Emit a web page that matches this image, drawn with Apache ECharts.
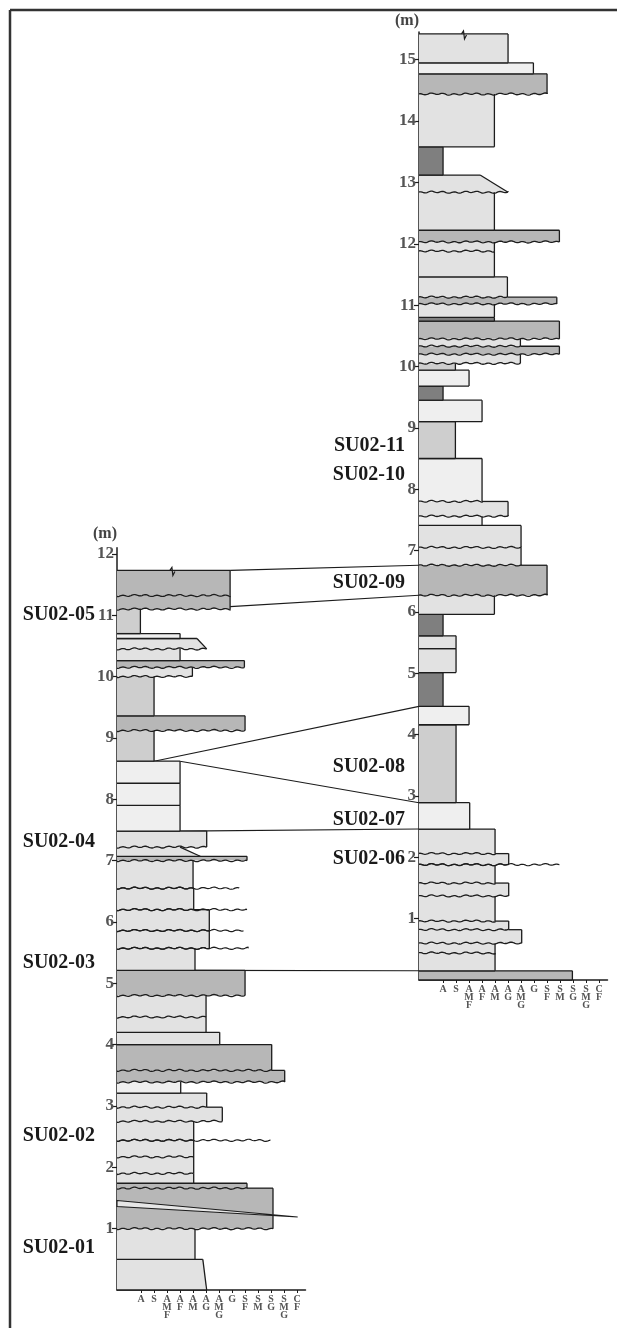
<!DOCTYPE html>
<html lang="en">
<head>
<meta charset="UTF-8">
<title>SU02 sections</title>
<script src="https://cdn.jsdelivr.net/npm/echarts@6/dist/echarts.min.js"></script>
</head>
<body style="margin:0;background:#fff">
<div id="main" style="width:617px;height:1328px"></div>
<script>
// grain size classes on the bottom axis
const sizeLabels = ['A', 'S', 'A\nM\nF', 'A\nF', 'A\nM', 'A\nG', 'A\nM\nG', 'G', 'S\nF', 'S\nM', 'S\nG', 'S\nM\nG', 'C\nF'];
const sizePos = [1.85, 2.85, 3.85, 4.85, 5.85, 6.85, 7.85, 8.85, 9.85, 10.85, 11.85, 12.85, 13.85];
const leftTicks = [1, 2, 3, 4, 5, 6, 7, 8, 9, 10, 11, 12];
const rightTicks = [1, 2, 3, 4, 5, 6, 7, 8, 9, 10, 11, 12, 13, 14, 15];

// beds: [base (m), top (m), size at base, size at top, shade, erosive base]
const leftBeds = [
    [0, 0.5, 6.9, 6.6, 1, 0],
    [0.5, 1.0, 6.0, 6.0, 1, 0],
    [1.0, 1.66, 12.0, 12.0, 3, 1],
    [1.66, 1.74, 10.0, 10.0, 3, 1],
    [1.74, 1.9, 5.9, 5.9, 1, 0],
    [1.9, 2.17, 5.9, 5.9, 1, 1],
    [2.17, 2.44, 5.9, 5.9, 1, 1],
    [2.44, 2.75, 5.9, 5.9, 1, 1],
    [2.75, 2.98, 8.1, 8.1, 1, 1],
    [2.98, 3.21, 6.9, 6.9, 1, 1],
    [3.21, 3.39, 4.9, 4.9, 0, 0],
    [3.39, 3.58, 12.9, 12.9, 3, 1],
    [3.58, 4.0, 11.9, 11.9, 3, 1],
    [4.0, 4.2, 7.9, 7.9, 1, 0],
    [4.2, 4.45, 6.85, 6.85, 1, 0],
    [4.45, 4.8, 6.85, 6.85, 1, 1],
    [4.8, 5.21, 9.85, 9.85, 3, 1],
    [5.21, 5.57, 6.0, 6.0, 1, 0],
    [5.57, 5.86, 7.1, 7.1, 1, 1],
    [5.86, 6.2, 7.1, 7.1, 1, 1],
    [6.2, 6.55, 5.9, 5.9, 1, 1],
    [6.55, 7.0, 5.85, 5.85, 1, 1],
    [7.0, 7.07, 10.0, 10.0, 3, 1],
    [7.07, 7.22, 6.4, 4.85, 1, 0],
    [7.22, 7.48, 6.9, 6.9, 1, 1],
    [7.48, 7.9, 4.85, 4.85, 0, 0],
    [7.9, 8.26, 4.85, 4.85, 0, 0],
    [8.26, 8.62, 4.85, 4.85, 0, 0],
    [8.62, 9.12, 2.85, 2.85, 2, 0],
    [9.12, 9.36, 9.85, 9.85, 3, 1],
    [9.36, 10.0, 2.85, 2.85, 2, 0],
    [10.0, 10.15, 5.8, 5.8, 1, 1],
    [10.15, 10.26, 9.8, 9.8, 3, 1],
    [10.26, 10.45, 4.85, 4.85, 1, 0],
    [10.45, 10.62, 6.9, 6.15, 1, 1],
    [10.62, 10.7, 4.85, 4.85, 0, 0],
    [10.7, 11.1, 1.8, 1.8, 2, 0],
    [11.1, 11.32, 8.7, 8.7, 3, 1],
    [11.32, 11.73, 8.7, 8.7, 3, 1]
];
const rightBeds = [
    [0, 0.15, 11.8, 11.8, 3, 0],
    [0.15, 0.44, 5.85, 5.85, 1, 0],
    [0.44, 0.6, 5.85, 5.85, 1, 1],
    [0.6, 0.82, 7.9, 7.9, 1, 1],
    [0.82, 0.96, 6.9, 6.9, 1, 1],
    [0.96, 1.37, 5.85, 5.85, 1, 1],
    [1.37, 1.58, 6.9, 6.9, 1, 1],
    [1.58, 1.88, 5.85, 5.85, 1, 1],
    [1.88, 2.06, 6.9, 6.9, 1, 1],
    [2.06, 2.46, 5.85, 5.85, 1, 1],
    [2.46, 2.89, 3.9, 3.9, 0, 0],
    [2.89, 4.16, 2.85, 2.85, 2, 0],
    [4.16, 4.46, 3.85, 3.85, 0, 0],
    [4.46, 5.01, 1.85, 1.85, 4, 0],
    [5.01, 5.4, 2.85, 2.85, 1, 0],
    [5.4, 5.61, 2.85, 2.85, 1, 0],
    [5.61, 5.96, 1.85, 1.85, 4, 0],
    [5.96, 6.27, 5.8, 5.8, 1, 0],
    [6.27, 6.76, 9.85, 9.85, 3, 1],
    [6.76, 7.05, 7.85, 7.85, 1, 1],
    [7.05, 7.41, 7.85, 7.85, 1, 1],
    [7.41, 7.56, 4.85, 4.85, 0, 0],
    [7.56, 7.8, 6.85, 6.85, 1, 1],
    [7.8, 8.5, 4.85, 4.85, 0, 1],
    [8.5, 9.1, 2.8, 2.8, 2, 0],
    [9.1, 9.45, 4.85, 4.85, 0, 0],
    [9.45, 9.68, 1.85, 1.85, 4, 0],
    [9.68, 9.94, 3.85, 3.85, 0, 0],
    [9.94, 10.05, 2.8, 2.8, 2, 0],
    [10.05, 10.2, 7.8, 7.8, 1, 1],
    [10.2, 10.33, 10.8, 10.8, 3, 1],
    [10.33, 10.45, 7.8, 7.8, 1, 1],
    [10.45, 10.74, 10.8, 10.8, 3, 1],
    [10.74, 10.8, 5.8, 5.8, 4, 0],
    [10.8, 11.02, 5.8, 5.8, 1, 0],
    [11.02, 11.13, 10.6, 10.6, 3, 1],
    [11.13, 11.46, 6.8, 6.8, 1, 1],
    [11.46, 11.88, 5.8, 5.8, 1, 0],
    [11.88, 12.03, 5.8, 5.8, 1, 1],
    [12.03, 12.22, 10.8, 10.8, 3, 1],
    [12.22, 12.84, 5.8, 5.8, 1, 0],
    [12.84, 13.12, 6.85, 4.7, 1, 1],
    [13.12, 13.58, 1.85, 1.85, 4, 0],
    [13.58, 14.44, 5.8, 5.8, 1, 0],
    [14.44, 14.77, 9.85, 9.85, 3, 1],
    [14.77, 14.95, 8.8, 8.8, 0, 0],
    [14.95, 15.42, 6.85, 6.85, 1, 0]
];

// thin wavy laminae running past the beds: [depth, size reached]
const leftStreaks = [[6.55, 9.4], [6.2, 10.0], [5.86, 9.7], [5.57, 10.1], [2.44, 11.8]];
const rightStreaks = [[1.88, 10.8]];
// inclined lens inside the lower coarse bed: [size, depth]
const leftLens = [[0, 1.46], [13.9, 1.19], [0, 1.36]];
// break symbol on top of each section: [size, depth]
const leftTopMark = [[4.3, 11.73]];
const rightTopMark = [[3.5, 15.42]];

// sample names
const leftNames = ['SU02-05', 'SU02-04', 'SU02-03', 'SU02-02', 'SU02-01'];
const leftNameDepth = [11.0, 7.3, 5.33, 2.52, 0.68];
const rightNames = ['SU02-11', 'SU02-10', 'SU02-09', 'SU02-08', 'SU02-07', 'SU02-06'];
const rightNameDepth = [8.7, 8.23, 6.48, 3.48, 2.61, 1.97];

// correlation lines: [left depth, left size, right depth]
const ties = [
    [11.73, 8.7, 6.76],
    [11.14, 8.7, 6.27],
    [8.62, 2.85, 4.46],
    [8.62, 4.85, 2.89],
    [7.48, 4.85, 2.46],
    [5.21, 6.0, 0.15]
];

const shades = ['#efefef', '#e2e2e2', '#cecece', '#b7b7b7', '#7f7f7f'];
const ink = '#1c1c1c';
const serif = '"Liberation Serif", "DejaVu Serif", serif';

// gentle irregular line for erosive contacts
function wavy(x0, x1, y) {
    const pts = [];
    for (let x = x0; x < x1; x += 1) {
        pts.push([x, y + 0.7 * Math.sin(x * 0.55) + 0.4 * Math.sin(x * 0.17)]);
    }
    pts.push([x1, y]);
    return pts;
}

function bedRenderer(beds) {
    return function (params, api) {
        const b = api.value(0), t = api.value(1), wb = api.value(2), wt = api.value(3);
        const sh = api.value(4), ero = api.value(5);
        const p0 = api.coord([0, b]);
        const pB = api.coord([wb, b]);
        const pT = api.coord([wt, t]);
        const p0t = api.coord([0, t]);
        const line = {stroke: ink, lineWidth: 1.3, fill: null};
        const kids = [{
            type: 'polygon',
            shape: {points: [p0, pB, pT, p0t]},
            style: {fill: shades[sh]}
        }, {
            type: 'line',
            shape: {x1: pB[0], y1: pB[1], x2: pT[0], y2: pT[1]},
            style: line
        }];
        if (ero) {
            kids.push({type: 'polyline', shape: {points: wavy(p0[0], pB[0], p0[1])}, style: line});
        } else {
            kids.push({type: 'line', shape: {x1: p0[0], y1: p0[1], x2: pB[0], y2: pB[1]}, style: line});
        }
        const next = beds[params.dataIndex + 1];
        let sx = 0;
        if (next && next[5]) sx = Math.min(next[2], wt);
        if (sx < wt) {
            const ps = api.coord([sx, t]);
            kids.push({type: 'line', shape: {x1: ps[0], y1: ps[1], x2: pT[0], y2: pT[1]}, style: line});
        }
        return {type: 'group', children: kids};
    };
}

function streakRenderer(params, api) {
    const a = api.coord([0, api.value(0)]);
    const e = api.coord([api.value(1), api.value(0)]);
    return {
        type: 'polyline',
        shape: {points: wavy(a[0], e[0], a[1])},
        style: {stroke: ink, lineWidth: 1.2, fill: null}
    };
}

function lensRenderer(params, api) {
    return {
        type: 'polygon',
        shape: {points: leftLens.map(p => api.coord(p))},
        style: {fill: '#e6e6e6', stroke: ink, lineWidth: 1.1}
    };
}

function markRenderer(params, api) {
    const p = api.coord([api.value(0), api.value(1)]);
    return {
        type: 'polyline',
        shape: {points: [[p[0] - 3, p[1]], [p[0] - 1, p[1] - 3], [p[0], p[1] + 5], [p[0] + 2, p[1] + 1]]},
        style: {stroke: ink, lineWidth: 1.2, fill: null}
    };
}

function nameRenderer(names, gap) {
    return function (params, api) {
        const p = api.coord([0, api.value(0)]);
        return {
            type: 'text',
            x: p[0] - gap,
            y: p[1],
            style: {
                text: names[params.dataIndex],
                fill: '#1a1a1a',
                font: 'bold 20px ' + serif,
                align: 'right',
                verticalAlign: 'middle'
            }
        };
    };
}

function xAxisFor(gridIndex) {
    return {
        type: 'value', gridIndex: gridIndex, min: 0, max: 14.5,
        axisLine: {lineStyle: {color: ink, width: 1.5}},
        axisTick: {customValues: sizePos, length: 3, lineStyle: {color: ink}},
        splitLine: {show: false},
        axisLabel: {
            customValues: sizePos,
            margin: 5,
            formatter: v => sizeLabels[Math.round(v - 1.85)],
            fontFamily: serif, fontWeight: 'bold', fontSize: 10, lineHeight: 8,
            color: '#555', verticalAlign: 'top'
        }
    };
}

function yAxisFor(gridIndex, max, ticks, nameGap) {
    return {
        type: 'value', gridIndex: gridIndex, min: 0, max: max,
        name: '(m)', nameLocation: 'end', nameGap: nameGap,
        nameTextStyle: {fontFamily: serif, fontWeight: 'bold', fontSize: 16, color: '#444', align: 'right'},
        axisLine: {onZero: false, lineStyle: {color: ink, width: 1.5}},
        axisTick: {customValues: ticks, length: 5, lineStyle: {color: ink, width: 1.2}},
        splitLine: {show: false},
        axisLabel: {customValues: ticks, margin: 3, fontFamily: serif, fontWeight: 'bold', fontSize: 17, color: '#555'}
    };
}

const chart = echarts.init(document.getElementById('main'));

const option = {
    animation: false,
    backgroundColor: '#fff',
    grid: [
        {left: 117, width: 188.5, top: 547.7, height: 742.3},
        {left: 419, width: 188.5, top: 32.1, height: 947.9}
    ],
    xAxis: [xAxisFor(0), xAxisFor(1)],
    yAxis: [yAxisFor(0, 12.1, leftTicks, 6), yAxisFor(1, 15.45, rightTicks, 3)],
    series: [
        {type: 'custom', xAxisIndex: 0, yAxisIndex: 0, clip: false, renderItem: bedRenderer(leftBeds), data: leftBeds},
        {type: 'custom', xAxisIndex: 1, yAxisIndex: 1, clip: false, renderItem: bedRenderer(rightBeds), data: rightBeds},
        {type: 'custom', xAxisIndex: 0, yAxisIndex: 0, clip: false, renderItem: lensRenderer, data: [[0, 1.4]], z: 3},
        {type: 'custom', xAxisIndex: 0, yAxisIndex: 0, clip: false, renderItem: streakRenderer, data: leftStreaks, z: 3},
        {type: 'custom', xAxisIndex: 1, yAxisIndex: 1, clip: false, renderItem: streakRenderer, data: rightStreaks, z: 3},
        {type: 'custom', xAxisIndex: 0, yAxisIndex: 0, clip: false, renderItem: markRenderer, data: leftTopMark, z: 3},
        {type: 'custom', xAxisIndex: 1, yAxisIndex: 1, clip: false, renderItem: markRenderer, data: rightTopMark, z: 3},
        {type: 'custom', xAxisIndex: 0, yAxisIndex: 0, clip: false, renderItem: nameRenderer(leftNames, 22),
            data: leftNameDepth.map(d => [d])},
        {type: 'custom', xAxisIndex: 1, yAxisIndex: 1, clip: false, renderItem: nameRenderer(rightNames, 14),
            data: rightNameDepth.map(d => [d])}
    ]
};
chart.setOption(option);

// frame and correlation lines between the two sections
const frame = [
    {type: 'line', shape: {x1: 10, y1: 10, x2: 617, y2: 10}, style: {stroke: '#333', lineWidth: 2.5}},
    {type: 'line', shape: {x1: 10, y1: 10, x2: 10, y2: 1328}, style: {stroke: '#333', lineWidth: 2.5}}
];
const tieLines = ties.map(t => {
    const a = chart.convertToPixel({gridIndex: 0}, [t[1], t[0]]);
    const b = chart.convertToPixel({gridIndex: 1}, [0, t[2]]);
    return {type: 'line', shape: {x1: a[0], y1: a[1], x2: b[0], y2: b[1]}, style: {stroke: ink, lineWidth: 1.1}};
});
chart.setOption({graphic: frame.concat(tieLines)});
</script>
</body>
</html>
